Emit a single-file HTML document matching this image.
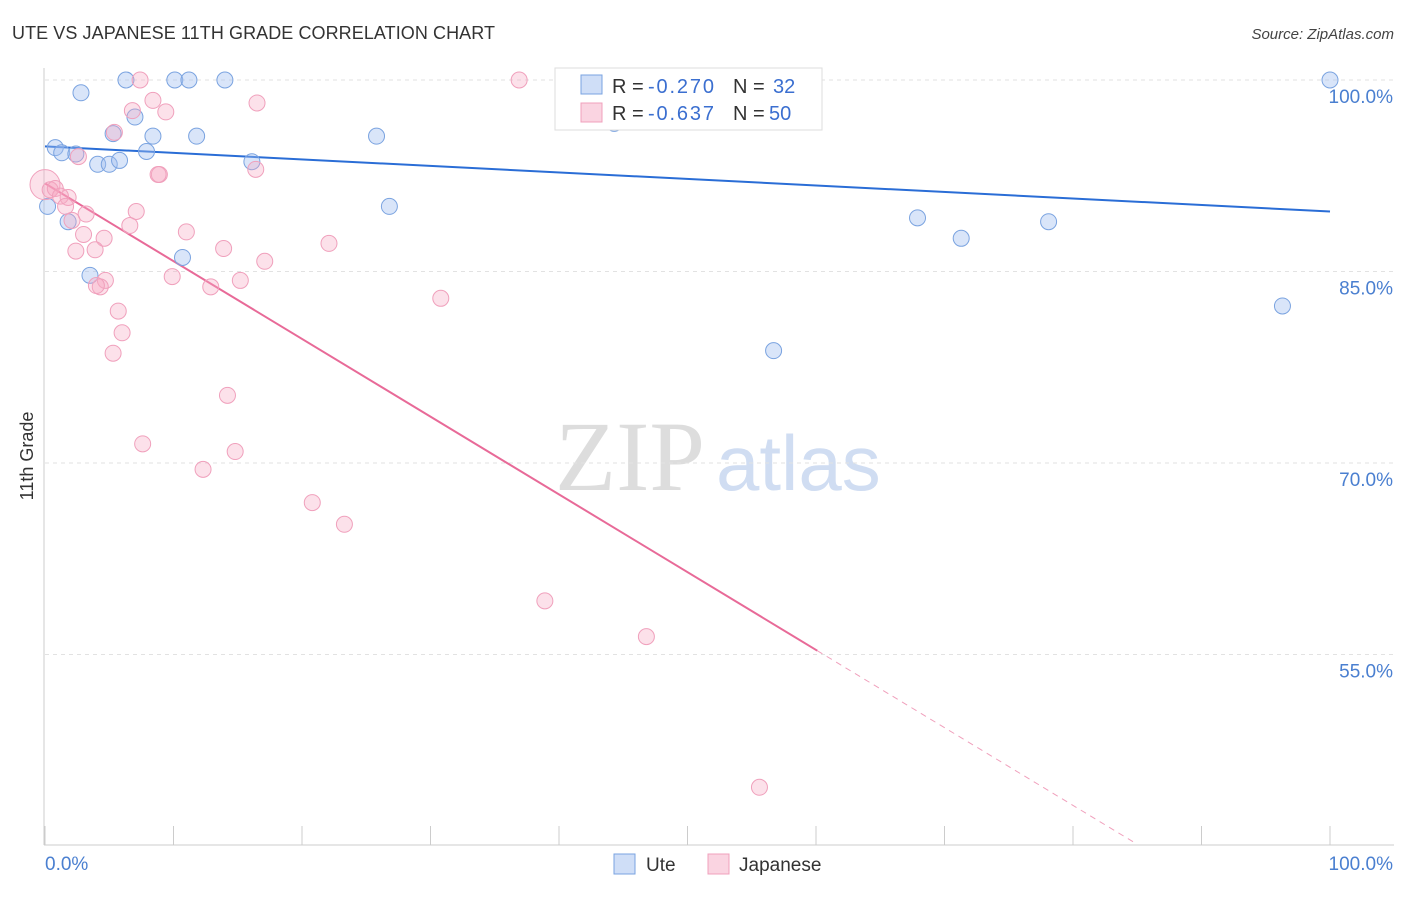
<!DOCTYPE html>
<html><head><meta charset="utf-8"><style>
body{margin:0;background:#fff;font-family:"Liberation Sans",sans-serif;}
svg text{font-family:"Liberation Sans",sans-serif;}
</style></head><body>
<svg id="chart" width="1406" height="892" viewBox="0 0 1406 892" xmlns="http://www.w3.org/2000/svg">
<text x="12" y="39" font-size="18" fill="#333" textLength="483">UTE VS JAPANESE 11TH GRADE CORRELATION CHART</text>
<text x="1394" y="39" font-size="15" fill="#444" font-style="italic" text-anchor="end">Source: ZipAtlas.com</text>
<g>
<text x="555" y="490" font-size="100" fill="#ddd" font-family="Liberation Serif" style="font-family:'Liberation Serif',serif">ZIP</text>
<text x="716" y="490" font-size="78" fill="#d0ddf2">atlas</text>
</g>
<g id="grid"></g>
<g id="axes"></g>
<g id="lines"></g>
<g id="pts"></g>
<text transform="translate(33,456) rotate(-90)" font-size="18" fill="#333" text-anchor="middle">11th Grade</text>
<g>
<rect x="555" y="68" width="267" height="62" fill="#fff" stroke="#ddd"/>
<rect x="581" y="75" width="21" height="19" fill="rgba(160,190,240,0.5)" stroke="#7aa3e0"/>
<rect x="581" y="103" width="21" height="19" fill="rgba(245,170,195,0.5)" stroke="#f0a0bc"/>
<text x="612" y="93" font-size="20" fill="#333">R = <tspan x="648" fill="#3b6fd0" textLength="66">-0.270</tspan><tspan x="733">N = </tspan><tspan x="773" fill="#3b6fd0">32</tspan></text>
<text x="612" y="120" font-size="20" fill="#333">R = <tspan x="648" fill="#3b6fd0" textLength="66">-0.637</tspan><tspan x="733">N = </tspan><tspan x="769" fill="#3b6fd0">50</tspan></text>
</g>
<g>
<rect x="614" y="854" width="21" height="20" fill="rgba(160,190,240,0.5)" stroke="#7aa3e0"/>
<text x="646" y="871" font-size="19" fill="#333">Ute</text>
<rect x="708" y="854" width="21" height="20" fill="rgba(245,170,195,0.5)" stroke="#f0a0bc"/>
<text x="739" y="871" font-size="19" fill="#333">Japanese</text>
</g>
</svg>
<script>
const uteX=[6.3,10.1,11.2,14.0,2.8,7.0,5.3,8.4,11.8,25.8,0.8,1.3,2.4,7.9,4.1,5.0,5.8,16.1,44.3,54.6,100,0.2,1.8,26.8,67.9,71.3,78.1,10.7,3.5,96.3,56.7,42.6];
const uteY=[100,100,100,100,99.0,97.1,95.8,95.6,95.6,95.6,94.7,94.3,94.2,94.4,93.4,93.4,93.7,93.6,96.6,100,100,90.1,88.9,90.1,89.2,87.6,88.9,86.1,84.7,82.3,78.8,100];
const japX=[7.4,36.9,16.5,8.4,6.8,9.4,5.4,2.6,8.9,8.8,16.4,0,0.4,0.8,1.8,1.2,1.6,3.2,7.1,2.1,6.6,11.0,3.0,4.6,22.1,13.9,2.4,3.9,17.1,9.9,15.2,12.9,4.7,4.3,4.0,30.8,5.7,6.0,5.3,14.2,7.6,14.8,12.3,20.8,23.3,38.9,46.8,55.6];
const japY=[100,100,98.2,98.4,97.6,97.5,95.9,94.0,92.6,92.6,93.0,91.8,91.4,91.5,90.8,90.9,90.1,89.5,89.7,89.0,88.6,88.1,87.9,87.6,87.2,86.8,86.6,86.7,85.8,84.6,84.3,83.8,84.3,83.8,83.9,82.9,81.9,80.2,78.6,75.3,71.5,70.9,69.5,66.9,65.2,59.2,56.4,44.6];
const japBig=[11];
const uteTrend=[94.8,89.7]; // y at x=0, x=100
const japTrend=[91.9,-0.609]; // intercept, slope
const japSolidEnd=60.1, japDashEnd=84.7;
const yTicks=[100,85,70,55];
const yTickLabels=["100.0%","85.0%","70.0%","55.0%"];
const xTicks=[0,10,20,30,40,50,60,70,80,90,100];

const NS="http://www.w3.org/2000/svg";
const xs=v=>45+v*12.85;
const ys=v=>80+(100-v)*191.5/15;
function mk(p,tag,a){const e=document.createElementNS(NS,tag);for(const k in a)e.setAttribute(k,a[k]);p.appendChild(e);return e;}
const grid=document.getElementById('grid'),axes=document.getElementById('axes'),lines=document.getElementById('lines'),pts=document.getElementById('pts');
yTicks.forEach((t,i)=>{
 const l=mk(grid,'line',{x1:45,x2:1394,y1:ys(t),y2:ys(t),stroke:'#e2e2e2','stroke-dasharray':'4,4'});
 
 
 const tx=mk(axes,'text',{x:1393,y:ys(t)+23,'font-size':19,fill:'#4a7fd0','text-anchor':'end'});tx.textContent=yTickLabels[i];
 
 
});
mk(axes,'line',{x1:44,x2:44,y1:68,y2:845,stroke:'#ccc'});
mk(axes,'line',{x1:44,x2:1394,y1:845,y2:845,stroke:'#ccc'});
xTicks.forEach(t=>{const l=mk(axes,'line',{x1:xs(t),x2:xs(t),y1:826,y2:845,stroke:'#ccc'});
 
 });
let t0=mk(axes,'text',{x:45,y:870,'font-size':19,fill:'#4a7fd0'});t0.textContent='0.0%';


let t1=mk(axes,'text',{x:1393,y:870,'font-size':19,fill:'#4a7fd0','text-anchor':'end'});t1.textContent='100.0%';



uteX.forEach((x,i)=>{const c=mk(pts,'circle',{cx:xs(x),cy:ys(uteY[i]),r:8,fill:'rgba(160,190,240,0.4)',stroke:'#7aa3e0','stroke-width':1});
 
 });
japX.forEach((x,i)=>{const c=mk(pts,'circle',{cx:xs(x),cy:ys(japY[i]),r:japBig.includes(i)?15:8,fill:'rgba(245,170,195,0.35)',stroke:'#f0a0bc','stroke-width':1});
 
 });

let bl=mk(lines,'line',{x1:xs(0),y1:ys(uteTrend[0]),x2:xs(100),y2:ys(uteTrend[1]),stroke:'#2a6dd6','stroke-width':2});


const jy=x=>japTrend[0]+japTrend[1]*x;
let pl=mk(lines,'line',{x1:xs(0),y1:ys(jy(0)),x2:xs(japSolidEnd),y2:ys(jy(japSolidEnd)),stroke:'#e86a98','stroke-width':2});


let pd=mk(lines,'line',{x1:xs(japSolidEnd),y1:ys(jy(japSolidEnd)),x2:xs(japDashEnd),y2:ys(jy(japDashEnd)),stroke:'#f0a0bc','stroke-width':1,'stroke-dasharray':'6,5'});


</script>
</body></html>
